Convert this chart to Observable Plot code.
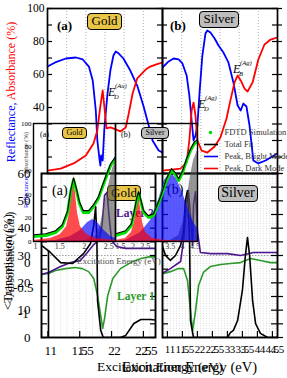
<!DOCTYPE html>
<html><head><meta charset="utf-8">
<script src="https://cdn.jsdelivr.net/npm/d3@7"></script>
<script src="https://cdn.jsdelivr.net/npm/@observablehq/plot@0.6"></script>
<style>
html,body{margin:0;padding:0;background:#fff;}
#c{position:relative;width:287px;height:378px;overflow:hidden;font-family:"Liberation Serif",serif;color:#000;}
.L{position:absolute;line-height:0;}
.L svg{overflow:visible;display:block;}
.t{position:absolute;white-space:nowrap;line-height:1;}
.box{position:absolute;border:1.3px solid #000;border-radius:4px;text-align:center;box-sizing:border-box;white-space:nowrap;}
.rot{position:absolute;white-space:nowrap;line-height:1;transform:translate(-50%,-50%) rotate(-90deg);}
</style></head><body><div id="c"></div>
<script>
// ---------------- DATA ----------------
// (A) Reflectance (blue) / Absorbance (red), % vs excitation energy (eV)
const goldReflE = [1.00,1.10,1.24,1.37,1.46,1.54,1.59,1.63,1.65,1.68,1.69,1.70,1.72,1.74,1.78,1.82,1.86,1.89,1.93,1.99,2.08,2.17,2.25,2.32,2.37,2.45,2.50];
const goldRefl  = [64.8,67.3,69.7,70.3,69.1,64.8,56.4,38.2,20.0,7.9,4.8,10.9,7.9,26.1,47.3,62.4,71.5,73.9,72.7,69.7,62.4,53.3,41.2,29.1,20.0,13.9,12.7];
const goldAbsE  = [1.00,1.17,1.34,1.50,1.60,1.65,1.69,1.72,1.74,1.77,1.82,1.89,1.95,2.02,2.06,2.11,2.17,2.28,2.34,2.42,2.50];
const goldAbs   = [1.8,3.0,6.1,10.9,18.2,26.1,41.2,50.3,41.2,27.3,27.9,26.7,25.5,27.9,36.4,48.5,57.6,63.0,64.8,66.1,67.3];
const silverReflE = [1.50,1.66,1.79,1.92,2.02,2.13,2.20,2.26,2.31,2.36,2.41,2.47,2.54,2.62,2.67,2.75,2.86,2.96,3.09,3.22,3.35,3.46,3.54,3.61,3.69,3.77,3.87,4.00,4.19,4.32,4.50];
const silverRefl  = [64.2,67.9,69.7,69.1,66.7,59.4,47.3,32.1,20.0,23.0,29.1,50.3,71.5,84.8,86.7,85.5,81.8,77.6,73.3,67.3,55.2,41.2,38.2,42.4,40.6,29.1,7.9,6.1,7.9,9.7,12.1];
const silverAbsE  = [1.50,1.97,2.13,2.20,2.26,2.31,2.36,2.41,2.52,2.67,2.86,3.01,3.17,3.27,3.38,3.46,3.54,3.64,3.72,3.85,4.00,4.16,4.32,4.50];
const silverAbs   = [1.8,3.0,6.7,20.0,38.2,43.0,35.2,20.0,13.9,12.7,16.4,21.8,33.3,44.2,55.2,59.4,56.4,51.5,49.7,55.2,69.1,78.2,81.2,82.4];

// (Fit) FDTD data and fitted peaks
const fitGoldDataE = [0.96,1.21,1.41,1.55,1.66,1.72,1.78,1.84,1.90,1.98,2.09,2.19,2.29,2.37,2.46,2.54,2.64];
const fitGoldData  = [4.2,5.1,7.6,12.7,24.6,41.5,52.5,43.2,32.2,24.6,24.6,29.7,36.4,45.8,55.9,64.4,70.3];
const fitGoldDarkE = [0.96,1.31,1.51,1.64,1.70,1.74,1.78,1.82,1.86,1.92,2.05,2.23,2.64];
const fitGoldDark  = [0.8,2.5,5.9,12.7,24.6,41.5,50.8,41.5,24.6,12.7,5.9,2.5,0.8];
const fitGoldBrightE = [0.96,1.41,1.72,1.92,2.07,2.17,2.27,2.41,2.54,2.64];
const fitGoldBright  = [0,0.8,4.2,9.3,16.1,18.6,16.1,9.3,4.2,2.5];
const fitGoldOtherE = [0.96,2.03,2.23,2.33,2.41,2.50,2.58,2.64];
const fitGoldOther  = [0,0.8,4.2,13.6,30.5,47.5,61.9,68.6];
const fitSilverDataE = [1.30,1.70,1.94,2.06,2.15,2.23,2.31,2.43,2.63,2.83,3.11,3.35,3.55,3.71,3.84,4.00,4.16,4.32,4.48,4.60];
const fitSilverData  = [5.1,7.6,13.6,24.6,34.7,40.7,34.7,24.6,20.3,22.0,36.4,51.7,60.2,56.8,51.7,58.5,68.6,77.1,83.1,84.7];
const fitSilverDarkE = [1.30,1.70,1.94,2.06,2.15,2.23,2.31,2.39,2.51,2.79,3.31,4.60];
const fitSilverDark  = [0.8,2.5,7.6,16.1,28.0,38.1,28.0,16.1,7.6,2.5,0.8,0.3];
const fitSilverBrightE = [1.30,1.70,2.31,2.71,3.03,3.27,3.51,3.75,4.00,4.24,4.44,4.60];
const fitSilverBright  = [0.3,0.8,7.6,17.8,34.7,51.7,58.5,53.4,41.5,26.3,16.1,11.0];
const fitSilverOtherE = [1.30,3.51,3.84,4.04,4.20,4.32,4.44,4.60];
const fitSilverOther  = [0,0.8,5.1,17.8,39.0,55.9,68.6,77.1];

// (Layers) Layer 1 (green), Layer 2 (purple), total (black)
const layerGoldE1 = [0.90,1.01,1.12,1.28,1.43,1.54,1.64,1.72,1.78,1.83,1.86,1.89,1.94,2.02,2.14,2.30,2.46,2.61,2.77];
const layerGold1  = [23.1,23.4,24.5,25.2,25.6,25.2,24.1,21.6,15.4,8.0,3.3,7.0,15.4,21.6,25.2,27.4,28.9,29.6,29.3];
const layerGoldE2 = [0.90,1.01,1.20,1.36,1.51,1.62,1.72,1.80,1.85,1.89,1.93,1.96,2.00,2.08,2.22,2.77];
const layerGold2  = [23.1,23.8,26.0,27.4,28.2,31.1,34.0,35.5,41.0,52.0,53.1,44.6,35.5,33.3,32.6,32.6];
const layerGoldET = [0.90,1.04,1.20,1.39,1.56,1.67,1.72,1.75,1.77,1.78,1.83,1.87,2.14,2.22,2.35,2.46,2.61,2.77];
const layerGoldT  = [33.7,31.1,27.4,27.1,30.7,34.4,41.0,47.9,35.5,13.5,2.6,0,0,0.7,5.1,6.6,6.6,6.2];
const layerSilverE1 = [0.77,1.10,1.37,1.54,1.67,1.77,1.84,1.94,2.04,2.20,2.44,2.77,3.10,3.44,3.77,4.10,4.44,4.67];
const layerSilver1  = [23.1,24.1,25.2,25.2,20.9,9.9,2.6,9.9,19.0,23.8,26.0,26.7,27.1,27.4,28.9,28.2,27.4,27.4];
const layerSilverE2 = [0.77,1.10,1.44,1.54,1.64,1.70,1.77,1.84,1.87,1.94,2.00,2.10,2.44,3.00,3.44,3.87,4.67];
const layerSilver2  = [23.1,25.2,27.8,35.5,50.1,53.8,44.6,33.7,48.6,53.4,39.1,31.1,30.7,30.7,30.0,31.1,31.1];
const layerSilverET = [0.77,0.94,1.10,1.27,1.44,1.54,1.60,1.67,1.74,1.77,1.87,3.00,3.10,3.20,3.34,3.50,3.60,3.67,3.74,3.84,3.94,4.10,4.34,4.67];
const layerSilverT  = [35.5,30.0,28.2,30.0,33.7,39.1,50.1,53.8,35.5,6.2,0,0,1.8,2.6,6.2,17.2,30.0,36.6,30.0,13.5,5.1,1.5,0,0];

// tick labels
const aTickLabels = [40,60,80,100];
const fitYTicks = [0,20,40,60,80,100];
const fitGoldXTicks = [1,1.5,2,2.5];
const fitSilverXTicks = [1.5,2,2.5,3.5,4,4.5];
const layerYTicks = [0,10,20,30,40,50,60];
const layerGoldXTicks = [1,1.5,2,2.5];
const layerSilverXTicks = [1,1.5,2,2.5,3,3.5,4,4.5];
const legendLabels = ["FDTD Simulation","Total Fit","Peak, Bright Mode","Peak, Dark Mode"];
const legendColors = ["#00e000","#000000","#0000ff","#ff0000"];

// ---------------- HELPERS ----------------
const FONT = '"Liberation Serif", serif';
const C = document.getElementById('c');
const pts = (E,V)=>E.map((e,i)=>({e, v:V[i]}));
const fmt = d=>String(d);
function put(el){C.appendChild(el);return el;}
function panel(left, top, w, h, opts){
  const svg = Plot.plot(Object.assign({width:w, height:h, margin:0,
    style:{background:'transparent', overflow:'visible', fontFamily:FONT, color:'#000'}}, opts));
  const d=document.createElement('div'); d.className='L';
  d.style.left=left+'px'; d.style.top=top+'px'; d.appendChild(svg); put(d);
}
function text(html, left, top, css){
  const d=document.createElement('div'); d.className='t';
  d.style.cssText += (css||''); d.style.left=left+'px'; d.style.top=top+'px';
  d.innerHTML=html; put(d); return d;
}
function box(label,left,top,w,h,bg,fs){
  const d=document.createElement('div'); d.className='box';
  Object.assign(d.style,{left:left+'px',top:top+'px',width:w+'px',height:h+'px',background:bg,fontSize:fs+'px',lineHeight:(h-2.6)+'px'});
  d.textContent=label; put(d);
}
function rot(html,cx,cy,css){
  const d=document.createElement('div'); d.className='rot';
  d.style.cssText += (css||''); d.style.left=cx+'px'; d.style.top=cy+'px';
  d.innerHTML=html; put(d);
}
function eLabel(left,top,sub,sup){
  text('<i>E</i>',left,top,'font-size:12px;');
  text('<i>'+sup+'</i>',left+7,top-3,'font-size:6.5px;');
  text('<i>'+sub+'</i>',left+6,top+8,'font-size:6.5px;');
}
const gridStyle = {stroke:'#9a9a9a',strokeDasharray:'1,2',strokeWidth:0.8};
const ax = (extra)=>Object.assign({tickSize:0,label:null,tickFormat:fmt},extra);

// ---------------- AXIS TITLES ----------------
rot('<span style="color:#0000ff">Reflectance,</span> <span style="color:#ff0000">Absorbance (%)</span>',11,92,'font-size:12px;');
rot('&lt;Transmission (%)',8,262,'font-size:12.5px;');
rot('&lt;Absorbance (a.u.)',10,258,'font-size:12px;opacity:0.85;');
rot('<span style="color:#0000ff">Reflectance,</span> Absorbance (%)',26,170,'font-size:6.5px;color:#444;');

// ---------------- (A) REFLECTANCE / ABSORBANCE ----------------
const aTicks = d3.range(0,101,10);
panel(47,8,115,165,{x:{domain:[1,2.5],axis:null},y:{domain:[0,100],axis:null},marks:[
  Plot.ruleX([1.25,1.5,1.75,2,2.25],gridStyle),
  Plot.line(pts(goldReflE,goldRefl),{x:'e',y:'v',stroke:'#0000ff',strokeWidth:1.8,clip:true}),
  Plot.line(pts(goldAbsE,goldAbs),{x:'e',y:'v',stroke:'#ff0000',strokeWidth:1.8,clip:true}),
  Plot.tickY(aTicks,{y:d=>d,insetRight:110,strokeWidth:1.2}),
  Plot.tickY(aTicks,{y:d=>d,insetLeft:110,strokeWidth:1.2}),
  Plot.frame({strokeWidth:1.7}),
  Plot.axisY(aTickLabels,ax({tickPadding:3,fontSize:11.5}))
]});
panel(162,8,115,165,{x:{domain:[1.5,4.5],axis:null},y:{domain:[0,100],axis:null},marks:[
  Plot.ruleX([2,2.5,3,3.5,4],gridStyle),
  Plot.line(pts(silverReflE,silverRefl),{x:'e',y:'v',stroke:'#0000ff',strokeWidth:1.8,clip:true}),
  Plot.line(pts(silverAbsE,silverAbs),{x:'e',y:'v',stroke:'#ff0000',strokeWidth:1.8,clip:true}),
  Plot.tickY(aTicks,{y:d=>d,insetRight:110,strokeWidth:1.2}),
  Plot.tickY(aTicks,{y:d=>d,insetLeft:110,strokeWidth:1.2}),
  Plot.tickY(aTicks,{y:d=>d,insetLeft:110,dx:5,strokeWidth:1.2}),
  Plot.frame({strokeWidth:1.7})
]});
text('<b>(a)</b>',57,19,'font-size:13px;');
box('Gold',87,13,35,17,'#e8c547',13);
text('<b>(b)</b>',170,19,'font-size:13px;');
box('Silver',199,11,40,17,'#bdbdbd',13);
eLabel(108,86,'D','(Au)');
eLabel(198,98,'D','(Ag)');
eLabel(233,63,'B','(Ag)');

// ---------------- (Layers) BOTTOM FIGURE ----------------
const lTicks = d3.range(0,61,5);
panel(41,173,114,164,{x:{domain:[0.9,2.69],axis:null},y:{domain:[0,60],axis:null},marks:[
  Plot.ruleX(d3.range(1,2.7,0.1),{stroke:'#c4c4c4',strokeDasharray:'1,1.5',strokeWidth:0.6}),
  Plot.ruleY([30],{stroke:'#888',strokeDasharray:'1.5,1.5',strokeWidth:0.8}),
  Plot.line(pts(layerGoldE1,layerGold1),{x:'e',y:'v',stroke:'#2b9a2b',strokeWidth:1.6,clip:true}),
  Plot.line(pts(layerGoldE2,layerGold2),{x:'e',y:'v',stroke:'#4e1590',strokeWidth:1.6,clip:true}),
  Plot.line(pts(layerGoldET,layerGoldT),{x:'e',y:'v',stroke:'#000',strokeWidth:1.6,clip:true}),
  Plot.tickY(lTicks,{y:d=>d,insetRight:108,strokeWidth:1.2}),
  Plot.tickY(lTicks,{y:d=>d,insetLeft:109,strokeWidth:1.2}),
  Plot.tickX(layerGoldXTicks,{x:d=>d,insetTop:158,strokeWidth:1.2}),
  Plot.frame({strokeWidth:1.9}),
  Plot.axisY(layerYTicks,ax({tickPadding:11,fontSize:13})),
  Plot.axisX(layerGoldXTicks,ax({tickPadding:8,fontSize:13})),
  Plot.axisX(layerGoldXTicks,ax({tickPadding:8,fontSize:13,dx:6}))
]});
panel(48,250,107,88,{x:{domain:[1,2.69],axis:null},y:{domain:[0,1],axis:null},marks:[
  Plot.ruleX([1],{strokeWidth:1.6})
]});
panel(162,173,115,164,{x:{domain:[0.837,4.67],axis:null},y:{domain:[0,60],axis:null},marks:[
  Plot.ruleX(d3.range(0.9,4.7,0.1),{stroke:'#c4c4c4',strokeDasharray:'1,1.5',strokeWidth:0.6}),
  Plot.ruleY([30],{stroke:'#888',strokeDasharray:'1.5,1.5',strokeWidth:0.8}),
  Plot.line(pts(layerSilverE1,layerSilver1),{x:'e',y:'v',stroke:'#2b9a2b',strokeWidth:1.6,clip:true}),
  Plot.line(pts(layerSilverE2,layerSilver2),{x:'e',y:'v',stroke:'#4e1590',strokeWidth:1.6,clip:true}),
  Plot.line(pts(layerSilverET,layerSilverT),{x:'e',y:'v',stroke:'#000',strokeWidth:1.6,clip:true}),
  Plot.tickY(lTicks,{y:d=>d,insetRight:109,strokeWidth:1.2}),
  Plot.tickY(lTicks,{y:d=>d,insetLeft:109,strokeWidth:1.2}),
  Plot.tickY(lTicks,{y:d=>d,insetLeft:109,dx:6,strokeWidth:1.2}),
  Plot.tickX(layerSilverXTicks,{x:d=>d,insetTop:158,strokeWidth:1.2}),
  Plot.frame({strokeWidth:1.9}),
  Plot.axisX(layerSilverXTicks,ax({tickPadding:8,fontSize:11})),
  Plot.axisX(layerSilverXTicks,ax({tickPadding:8,fontSize:11,dx:5}))
]});
text('0',24,256,'font-size:13px;');
text('-0.5',13,281,'font-size:13px;');
text('-1',18,307,'font-size:13px;');
text('<b>Layer 2</b>',116,208,'font-size:11.5px;color:#4e1590;');
text('<b>Layer 1</b>',117,291,'font-size:11.5px;color:#2b9a2b;');
text('Excitation Energy (eV)',77,257,'font-size:9px;color:#555;');
text('Excitation Energy (eV)',97,360,'font-size:13.5px;');
text('Excitation Energy (eV)',122,360,'font-size:14.5px;');

// ---------------- (Fit) big labels ----------------
text('(a)',52,184,'font-size:14px;');
box('Gold',107,185,34,16,'#e8c547',13);
text('(b)',167,183,'font-size:14px;');
box('Silver',218,185,40,17,'#bdbdbd',14);

// ---------------- (Fit) panels ----------------
panel(33,123,82,118,{x:{domain:[0.96,2.64],axis:null},y:{domain:[0,100],axis:null},marks:[
  Plot.areaY(pts(fitGoldOtherE,fitGoldOther),{x:'e',y:'v',fill:'#505050',fillOpacity:0.6,clip:true}),
  Plot.areaY(pts(fitGoldBrightE,fitGoldBright),{x:'e',y:'v',fill:'#0000ff',fillOpacity:0.65,clip:true}),
  Plot.areaY(pts(fitGoldDarkE,fitGoldDark),{x:'e',y:'v',fill:'#ff0000',fillOpacity:0.7,clip:true}),
  Plot.line(pts(fitGoldDataE,fitGoldData),{x:'e',y:'v',stroke:'#00e000',strokeWidth:3,clip:true}),
  Plot.line(pts(fitGoldDataE,fitGoldData),{x:'e',y:'v',stroke:'#000',strokeWidth:1.1,dy:-1.8,clip:true}),
  Plot.frame({strokeWidth:1.4}),
  Plot.axisY(fitYTicks,ax({tickPadding:2,fontSize:7})),
  Plot.axisX(fitGoldXTicks,ax({tickPadding:2,fontSize:8,fill:'#333'}))
]});
panel(115,123,82,118,{x:{domain:[1.3,4.6],axis:null},y:{domain:[0,100],axis:null},marks:[
  Plot.areaY(pts(fitSilverOtherE,fitSilverOther),{x:'e',y:'v',fill:'#505050',fillOpacity:0.6,clip:true}),
  Plot.areaY(pts(fitSilverBrightE,fitSilverBright),{x:'e',y:'v',fill:'#0000ff',fillOpacity:0.65,clip:true}),
  Plot.areaY(pts(fitSilverDarkE,fitSilverDark),{x:'e',y:'v',fill:'#ff0000',fillOpacity:0.7,clip:true}),
  Plot.line(pts(fitSilverDataE,fitSilverData),{x:'e',y:'v',stroke:'#00e000',strokeWidth:3,clip:true}),
  Plot.line(pts(fitSilverDataE,fitSilverData),{x:'e',y:'v',stroke:'#000',strokeWidth:1.1,dy:-1.8,clip:true}),
  Plot.frame({strokeWidth:1.4}),
  Plot.axisX(fitSilverXTicks,ax({tickPadding:2,fontSize:8,fill:'#333'}))
]});
text('(a)',40,131,'font-size:8px;');
box('Gold',62,127,25,12,'#e8c547',8);
text('(b)',121,131,'font-size:8px;');
box('Silver',141,127,28,12,'#bdbdbd',8);

// ---------------- legend ----------------
panel(200,125,87,49,{x:{domain:[0,1],axis:null},y:{domain:legendLabels,type:'point',padding:0.5,axis:null},marks:[
  Plot.dot([legendLabels[0]],{y:d=>d,frameAnchor:'left',dx:10,r:1.8,fill:legendColors[0],stroke:null}),
  Plot.tickY(legendLabels.slice(1),{y:d=>d,stroke:(d,i)=>legendColors[i+1],insetLeft:4,insetRight:69,strokeWidth:1.6}),
  Plot.text(legendLabels,{y:d=>d,text:d=>d,frameAnchor:'left',dx:24,textAnchor:'start',fontSize:8.5,fill:'#333'})
]});
</script></body></html>
